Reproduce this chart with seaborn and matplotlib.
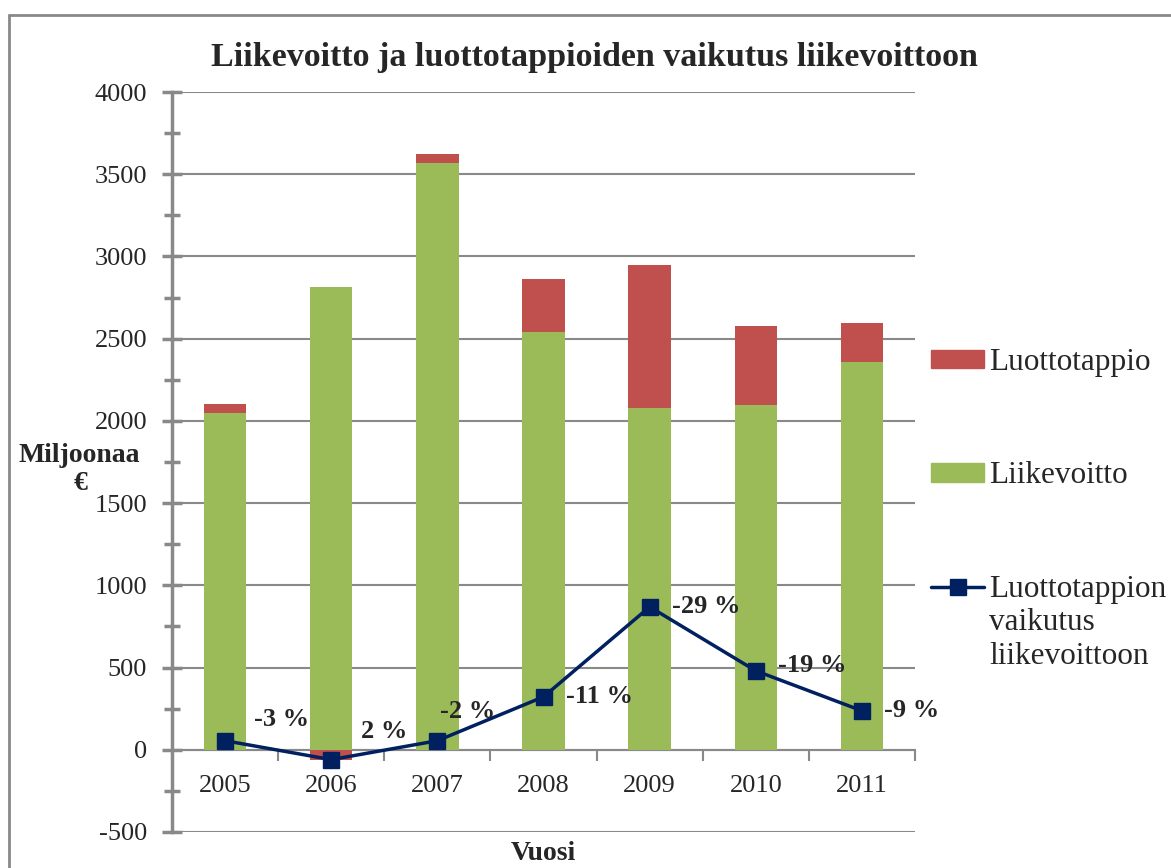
import numpy as np
import pandas as pd
import matplotlib
matplotlib.use("Agg")
import matplotlib.pyplot as plt
import seaborn as sns
from matplotlib.lines import Line2D
from matplotlib.patches import Patch

years = ["2005", "2006", "2007", "2008", "2009", "2010", "2011"]
liikevoitto = [2049, 2815, 3568, 2541, 2079, 2097, 2359]
luottotappio = [55, -60, 55, 322, 869, 480, 237]
vaikutus_labels = ["-3 %", "2 %", "-2 %", "-11 %", "-29 %", "-19 %", "-9 %"]

GREEN = "#9BBB59"
RED = "#C0504D"
NAVY = "#002060"
GRID = "#898989"

sns.set_style("white")
plt.rcParams["font.family"] = ["Liberation Serif", "DejaVu Serif"]
plt.rcParams["axes.unicode_minus"] = False

df = pd.DataFrame({"vuosi": years, "liikevoitto": liikevoitto, "luottotappio": luottotappio})

fig = plt.figure(figsize=(11.71, 8.68), dpi=100)
ax = fig.add_axes([0.1469, 0.0415, 0.6345, 0.8525])

sns.barplot(data=df, x="vuosi", y="liikevoitto", color=GREEN, width=0.4,
            saturation=1, linewidth=0, ax=ax, zorder=2)
red = np.array(luottotappio)
bottoms = np.where(red > 0, np.array(liikevoitto), 0)
ax.bar(np.arange(len(years)), red, bottom=bottoms, width=0.4, color=RED,
       linewidth=0, zorder=2)

ax.plot(np.arange(len(years)), luottotappio, color=NAVY, lw=2.5, marker="s",
        markersize=12, zorder=4)

# label offsets in pixels (x, y) from each marker
offsets = [(29, 21), (30, 28), (3, 29), (22, 0), (22, 0), (22, 5), (22, 0)]
for i, (lab, off) in enumerate(zip(vaikutus_labels, offsets)):
    ax.annotate(lab, (i, luottotappio[i]), xytext=off, textcoords="offset pixels",
                ha="left", va="center", fontsize=19, fontweight="bold", zorder=5)

ax.set_xlim(-0.5, 6.5)
ax.set_ylim(-500, 4000)
ax.set_yticks(np.arange(-500, 4001, 500))
ax.set_yticks(np.arange(-500, 4001, 250), minor=True)
ax.yaxis.grid(True, color=GRID, lw=1.5, zorder=0)
ax.set_axisbelow(True)

for s in ["top", "right"]:
    ax.spines[s].set_visible(False)
ax.spines["left"].set_color(GRID)
ax.spines["left"].set_linewidth(2.5)
ax.spines["bottom"].set_position(("data", 0))
ax.spines["bottom"].set_color(GRID)
ax.spines["bottom"].set_linewidth(1.5)
ax.spines["bottom"].set_zorder(1)

ax.tick_params(axis="y", which="both", left=True, direction="inout", color=GRID,
               width=2.5, labelsize=19, pad=11)
ax.tick_params(axis="y", which="major", length=14)
ax.tick_params(axis="y", which="minor", length=11)
ax.set_xticks(np.arange(len(years)))
ax.set_xticklabels(years)
ax.set_xticks(np.arange(-0.5, 7, 1), minor=True)
ax.tick_params(axis="x", which="major", bottom=True, length=0, labelsize=19, pad=18)
ax.tick_params(axis="x", which="minor", bottom=True, direction="out", length=8,
               color=GRID, width=1.5)

ax.set_xlabel("")
ax.set_ylabel("")
# y axis title split in two lines as separate texts
fig.text(0.068, 1 - 455 / 868, "Miljoonaa", ha="center", va="center", fontsize=20,
         fontweight="bold")
fig.text(0.069, 1 - 484 / 868, "€", ha="center", va="center", fontsize=20,
         fontweight="bold")
fig.text(0.464, 0.017, "Vuosi", ha="center", va="center", fontsize=20, fontweight="bold")
fig.text(0.508, 0.934, "Liikevoitto ja luottotappioiden vaikutus liikevoittoon",
         ha="center", va="center", fontsize=24.5, fontweight="bold")

handles = [Patch(color=RED), Patch(color=GREEN),
           Line2D([], [], color=NAVY, lw=2.5, marker="s", markersize=11)]
labels = ["Luottotappio", "Liikevoitto", "Luottotappion"]
fig.legend(handles, labels, loc="upper left", bbox_to_anchor=(0.795, 0.599),
           frameon=False, fontsize=22.5, handlelength=1.7, handleheight=0.55,
           handletextpad=0.15, labelspacing=2.7, borderaxespad=0, borderpad=0)
fig.text(989 / 1171, 1 - 608 / 868, "vaikutus\nliikevoittoon", ha="left", va="top",
         fontsize=22.5, linespacing=1.25)

# outer chart border
fig.add_artist(Line2D([9 / 1171, 1], [1 - 15 / 868] * 2, color=GRID, lw=2))
fig.add_artist(Line2D([9 / 1171] * 2, [0, 1 - 15 / 868], color=GRID, lw=2))

fig.savefig("out.png", dpi=100)
